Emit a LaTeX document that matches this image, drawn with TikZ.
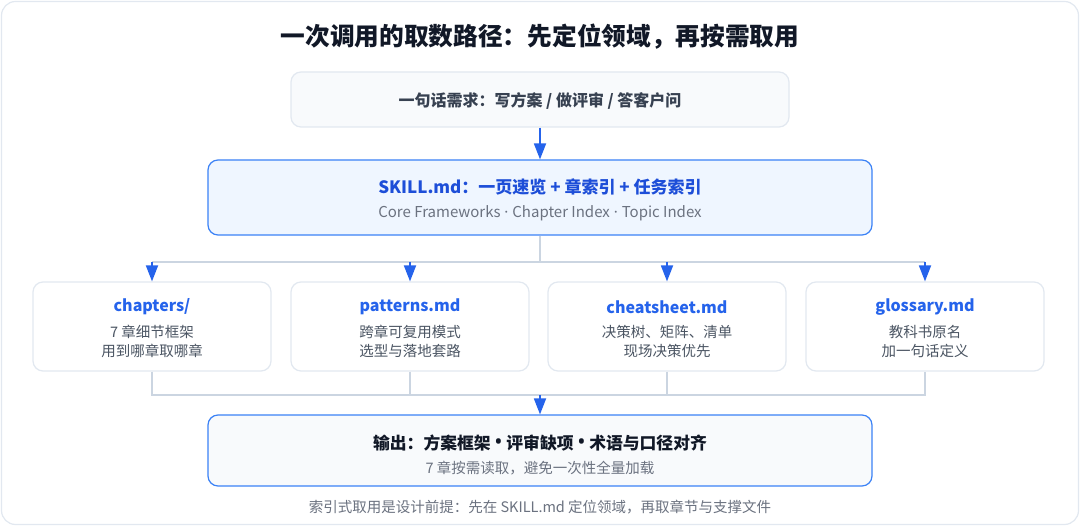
\documentclass[tikz,border=0pt]{standalone}
\usepackage{fontspec}
\setmainfont{Noto Sans CJK SC}
\newfontfamily\latinf{Noto Sans}
\usetikzlibrary{arrows.meta}
\definecolor{framec}{HTML}{E2E8F0}
\definecolor{softfill}{HTML}{F8FAFC}
\definecolor{bluefill}{HTML}{EFF6FF}
\definecolor{blueline}{HTML}{3B82F6}
\definecolor{arrowc}{HTML}{2563EB}
\definecolor{darkblue}{HTML}{1D4ED8}
\definecolor{titlec}{HTML}{111827}
\definecolor{reqc}{HTML}{374151}
\definecolor{bodyc}{HTML}{4B5563}
\definecolor{subc}{HTML}{6B7280}
\definecolor{busc}{HTML}{CBD5E1}
\newcommand{\mdot}{{\latinf\ ·\ }}
\newcommand{\bdot}{{\latinf\hspace{0.22em}{\fontsize{22}{20}\selectfont •}\hspace{0.22em}}}
\tikzset{
  boxbase/.style={draw, rounded corners=10pt, line width=1.2pt, inner sep=0pt},
  reqbox/.style={boxbase, draw=framec, fill=softfill, minimum width=498pt, minimum height=55pt},
  skillbox/.style={boxbase, draw=blueline, fill=bluefill, minimum width=664pt, minimum height=75pt},
  filebox/.style={boxbase, draw=framec, fill=white, minimum width=238pt, minimum height=89pt},
  outbox/.style={boxbase, draw=blueline, fill=softfill, minimum width=664pt, minimum height=71pt},
  txt/.style={inner sep=0pt, anchor=center},
  titletxt/.style={txt, font=\fontsize{24.7}{28}\selectfont\bfseries, text=titlec},
  reqtxt/.style={txt, font=\fontsize{16}{19}\selectfont\bfseries, text=reqc},
  skilltxt/.style={txt, font=\fontsize{17}{20}\selectfont\bfseries, text=darkblue},
  subtxt/.style={txt, font=\fontsize{14.5}{17}\selectfont, text=subc},
  filetitle/.style={txt, font=\fontsize{16}{19}\selectfont\bfseries, text=arrowc},
  filebody/.style={txt, font=\fontsize{14.5}{17}\selectfont, text=bodyc},
  outtxt/.style={txt, font=\fontsize{16.8}{20}\selectfont\bfseries, text=titlec},
  arr/.style={draw=arrowc, line width=1.8pt, -{Triangle[length=16pt,width=12pt]}},
  bus/.style={draw=busc, line width=2.3pt},
  thinbus/.style={draw=busc, line width=1.5pt},
}
\begin{document}
\begin{tikzpicture}[x=1pt,y=-1pt]
\useasboundingbox (0,0) rectangle (1080,526);
\draw[framec, line width=1.2pt, fill=white, rounded corners=14pt] (1.5,1.5) rectangle (1078.5,524.5);

\node[titletxt] (title) at (540,37) {一次调用的取数路径：先定位领域，再按需取用};

\node[reqbox] (req) at (540,99.5) {};
\node[reqtxt] (reqt) at (540,101) {一句话需求：写方案 / 做评审 / 答客户问};

\node[skillbox] (skill) at (540,197.5) {};
\node[skilltxt] (skillt) at (540,187) {SKILL.md：一页速览 + 章索引 + 任务索引};
\node[subtxt, font=\fontsize{15}{17}\selectfont] (skills) at (540,213) {Core Frameworks\mdot Chapter Index\mdot Topic Index};

\node[filebox] (chap) at (152,326.5) {};
\node[filebox] (pat) at (410,326.5) {};
\node[filebox] (cheat) at (667,326.5) {};
\node[filebox] (glos) at (925,326.5) {};

\node[filetitle] (chapt) at (152,307) {chapters/};
\node[filebody] (chapa) at (152,332) {7 章细节框架};
\node[filebody] (chapb) at (152,351) {用到哪章取哪章};

\node[filetitle] (patt) at (410,307) {patterns.md};
\node[filebody] (pata) at (410,332) {跨章可复用模式};
\node[filebody] (patb) at (410,351) {选型与落地套路};

\node[filetitle] (cheatt) at (667,307) {cheatsheet.md};
\node[filebody] (cheata) at (667,332) {决策树、矩阵、清单};
\node[filebody] (cheatb) at (667,351) {现场决策优先};

\node[filetitle] (glost) at (925,307) {glossary.md};
\node[filebody] (glosa) at (925,332) {教科书原名};
\node[filebody] (glosb) at (925,351) {加一句话定义};

\node[outbox] (out) at (540,450.5) {};
\node[outtxt] (outt) at (540,443) {输出：方案框架\bdot 评审缺项\bdot 术语与口径对齐};
\node[subtxt] (outs) at (540,468) {7 章按需读取，避免一次性全量加载};

\node[subtxt] (foot) at (540,507) {索引式取用是设计前提：先在 SKILL.md 定位领域，再取章节与支撑文件};

% connectors
\draw[arr] (req.south) -- (skill.north);

\coordinate (b1) at (540,262);
\draw[thinbus] (skill.south) -- (b1);
\draw[bus] (chap.north |- b1) -- (glos.north |- b1);
\draw[arr] (chap.north |- b1) -- (chap.north);
\draw[arr] (pat.north |- b1) -- (pat.north);
\draw[arr] (cheat.north |- b1) -- (cheat.north);
\draw[arr] (glos.north |- b1) -- (glos.north);

\coordinate (b2) at (540,395);
\draw[bus] (chap.south) -- (chap.south |- b2) -- (glos.south |- b2) -- (glos.south);
\draw[bus] (pat.south) -- (pat.south |- b2);
\draw[bus] (cheat.south) -- (cheat.south |- b2);
\draw[arr] (b2) -- (out.north);
\end{tikzpicture}
\end{document}
